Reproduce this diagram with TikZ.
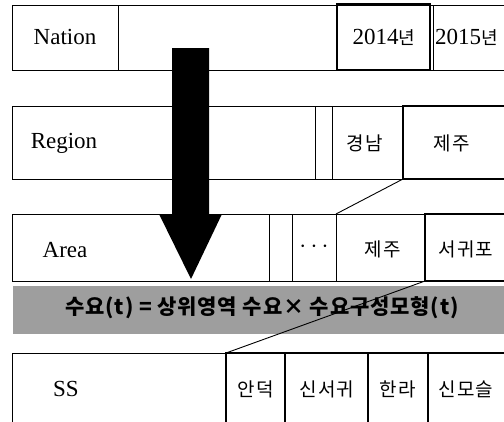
\documentclass[tikz,border=0pt]{standalone}
\usepackage{fontspec}
\setmainfont{Liberation Serif}
\newfontfamily\kor[LetterSpace=6]{Noto Sans CJK KR}
\newfontfamily\korb[LetterSpace=4]{Noto Sans CJK KR}
\begin{document}
\begin{tikzpicture}[x=1pt,y=-1pt,
  thin line/.style={draw=black,line width=0.9pt},
  thick line/.style={draw=black,line width=2.4pt},
  lat/.style={font=\fontsize{23}{25}\selectfont},
  ko/.style={font=\kor\fontsize{19}{21}\selectfont},
]
\useasboundingbox (0,0) rectangle (504,421);
\clip (0,0) rectangle (504,421);
\fill[white] (0,0) rectangle (504,421);
% Nation row
\draw[thin line] (12,5) rectangle (530,70);
\draw[thin line] (118,5) -- (118,70);
\draw[thin line] (433,5) -- (433,70);
\draw[thick line] (337,4) rectangle (430,70);
\node[lat] (nation) at (65,37) {Nation};
\node[lat] (y2014) at (384,37) {2014\kor\fontsize{18}{20}\selectfont 년};
\node[lat,anchor=west,inner sep=2pt] (y2015) at (433,37) {2015\kor\fontsize{18}{20}\selectfont 년};
% Region row
\draw[thin line] (12,106) rectangle (530,179);
\draw[thin line] (315,106) -- (315,179);
\draw[thin line] (332,106) -- (332,179);
\draw[thick line] (403,106) rectangle (530,179);
\node[lat] (region) at (64,143) {Region};
\node[ko] (gyeongnam) at (365,143) {경남};
\node[ko] (jeju1) at (452,143) {제주};
\coordinate (rj) at (403,179);
% Area row
\draw[thin line] (12,214) rectangle (530,281);
\draw[thin line] (269,214) -- (269,281);
\draw[thin line] (292,214) -- (292,281);
\draw[thin line] (336,214) -- (336,281);
\draw[thick line] (425,214) rectangle (530,281);
\node[lat] (area) at (65,250) {Area};
\node[lat] (dots) at (314,247) {$\cdots$};
\node[ko] (jeju2) at (383,249) {제주};
\node[ko] (seogwipo) at (466,249) {서귀포};
\coordinate (ac) at (336,214);
\coordinate (as) at (425,281);
% band
\fill[black!38] (13,286) rectangle (530,334);
\node[font=\korb\bfseries\fontsize{21}{23}\selectfont] (formula) at (262,308) {수요(\textit{t}) = 상위영역 수요× 수요구성모형(\textit{t})};
% SS row
\draw[thin line] (12,353) rectangle (530,440);
\draw[thick line] (226,353) rectangle (530,440);
\draw[thick line] (285,353) -- (285,440);
\draw[thick line] (368,353) -- (368,440);
\draw[thick line] (428,353) -- (428,440);
\node[lat] (ss) at (66,389) {SS};
\node[ko] (andeok) at (256,389) {안덕};
\node[ko] (sinseogwi) at (327,389) {신서귀};
\node[ko] (halla) at (398,389) {한라};
\node[ko] (sinmoseul) at (466,389) {신모슬};
\coordinate (sa) at (226,353);
% connectors
\draw[thin line] (rj) -- (ac);
\draw[thin line] (as) -- (sa);
% big arrow
\fill[black] (172,48) -- (209,48) -- (209,214) -- (222,214) -- (191,279) -- (159,214) -- (172,214) -- cycle;
\end{tikzpicture}
\end{document}
